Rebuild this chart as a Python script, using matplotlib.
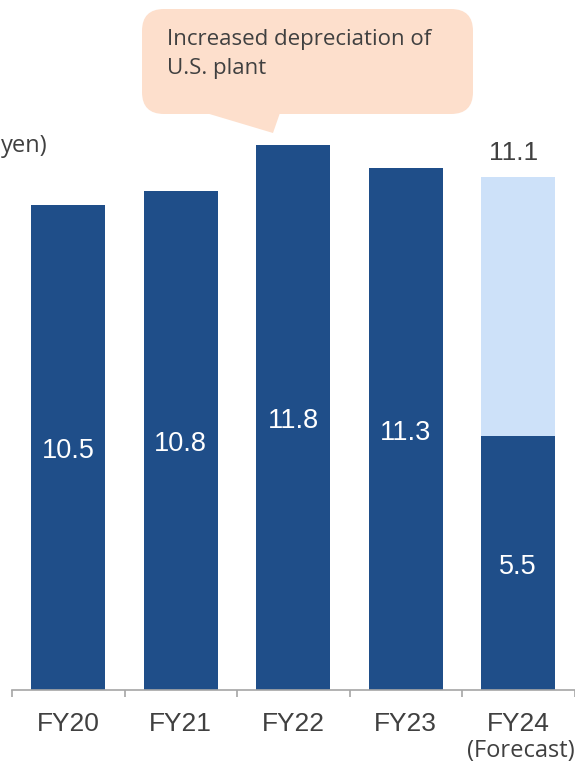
import matplotlib
matplotlib.use("Agg")
import matplotlib.pyplot as plt
from matplotlib.patches import FancyBboxPatch, Polygon
from matplotlib.transforms import Affine2D, ScaledTranslation

# ---- data ----
categories = ["FY20", "FY21", "FY22", "FY23", "FY24"]
totals = [10.5, 10.8, 11.8, 11.3, 11.1]
first_half_fy24 = 5.5
forecast_note = "(Forecast)"
unit_label = "yen)"
callout_text = "Increased depreciation of\nU.S. plant"

DARK = "#1F4E89"
LIGHT = "#CDE1F9"
TXT = "#404040"
AXIS = "#A6A6A6"
PEACH = "#FDDFCC"

W, H = 575, 762
fig = plt.figure(figsize=(W / 100, H / 100), dpi=100)
ax = fig.add_axes([12 / W, 72 / H, 562.5 / W, 690 / H])

x = list(range(len(categories)))
dark_vals = totals[:-1] + [first_half_fy24]
light_vals = [0, 0, 0, 0, totals[-1] - first_half_fy24]

bw = 0.66
ax.bar(x, dark_vals, width=bw, color=DARK, zorder=2)
ax.bar(x, light_vals, width=bw, bottom=dark_vals, color=LIGHT, zorder=2)

ax.set_xlim(-0.5, 4.5)
ax.set_ylim(0, 14.93)

down4 = ax.transData + ScaledTranslation(0, -4 / 100, fig.dpi_scale_trans)
for xi, v in zip(x, dark_vals):
    ax.text(xi, v / 2, f"{v:.1f}", ha="center", va="center", color="white",
            fontsize=19.5, family="Liberation Sans", zorder=3, transform=down4)
ax.text(x[-1] - 0.04, totals[-1] + 0.52, f"{totals[-1]:.1f}", ha="center", va="center",
        color=TXT, fontsize=19, family="Liberation Sans")

for s in ["left", "top", "right"]:
    ax.spines[s].set_visible(False)
ax.spines["bottom"].set_color(AXIS)
ax.spines["bottom"].set_linewidth(1.2)
ax.set_yticks([])
ax.set_xticks([i - 0.5 for i in range(len(categories) + 1)])
ax.set_xticklabels([])
ax.tick_params(axis="x", direction="out", length=5, width=1.2, color=AXIS)

xt = ax.get_xaxis_transform()
for xi, c in zip(x, categories):
    ax.text(xi, -34 / 690, c, transform=xt, ha="center", va="center",
            color=TXT, fontsize=19, family="Liberation Sans", clip_on=False)
ax.text(x[-1] + 0.02, -61 / 690, forecast_note, transform=xt, ha="center", va="center",
        color=TXT, fontsize=17, family="Open Sans", clip_on=False)

# pixel transform (origin top-left)
px = Affine2D().scale(1 / 100, -1 / 100).translate(0, H / 100) + fig.dpi_scale_trans

fig.text(48 / W, 1 - 146 / H, unit_label, ha="right", va="center", color=TXT,
         fontsize=17, family="Open Sans")

box = FancyBboxPatch((142 + 22, 9 + 22), 331 - 44, 105 - 44,
                     boxstyle="round,pad=22", transform=px,
                     facecolor=PEACH, edgecolor="none", zorder=5)
fig.add_artist(box)
tail = Polygon([(196, 110), (273, 133), (281, 110)], closed=True, transform=px,
               facecolor=PEACH, edgecolor="none", zorder=5)
fig.add_artist(tail)
fig.text(167 / W, 1 - 54 / H, callout_text, ha="left", va="center", color=TXT,
         fontsize=16, family="Open Sans", linespacing=1.55, zorder=6)

fig.savefig("out.png", dpi=100)
